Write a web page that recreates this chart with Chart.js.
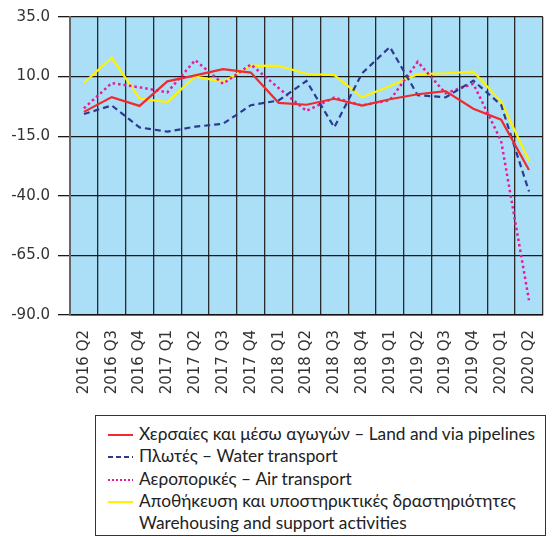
<!DOCTYPE html>
<html>
<head>
<meta charset="utf-8">
<script src="https://cdn.jsdelivr.net/npm/chart.js@4/dist/chart.umd.min.js"></script>
<style>
    html, body { margin: 0; padding: 0; background: #fff; overflow: hidden; }
    #wrap { position: relative; width: 558px; height: 537px; overflow: hidden; }
    #chart { position: absolute; left: 0; top: 0; }
    #legend {
        position: absolute; left: 95px; top: 415px; width: 451px; height: 121px;
        box-sizing: border-box; border: 1px solid #333;
        font-family: Lato, "Open Sans", sans-serif; font-size: 17.3px; color: #222;
        padding-top: 7px;
    }
    .row { height: 22.3px; line-height: 22px; white-space: nowrap; position: relative; padding-left: 43px; }
    .row svg { position: absolute; left: 12px; top: 10px; }
</style>
</head>
<body>
<div id="wrap">
    <canvas id="chart" width="562" height="400"></canvas>
    <div id="legend"></div>
</div>
<script>
// Quarters
const quarters = ['2016 Q2', '2016 Q3', '2016 Q4', '2017 Q1', '2017 Q2', '2017 Q3', '2017 Q4',
    '2018 Q1', '2018 Q2', '2018 Q3', '2018 Q4', '2019 Q1', '2019 Q2', '2019 Q3', '2019 Q4',
    '2020 Q1', '2020 Q2'];

// Series values (% change)
const landPipelines = [-4.8, 1.4, -2.3, 8.0, 10.5, 13.1, 11.7, -1.0, -1.8, 0.7, -2.2, 0.5, 2.6, 3.9, -3.5, -8.1, -29.2];
const waterTransport = [-5.7, -2.1, -11.3, -13.1, -11.0, -9.8, -2.0, 0.0, 8.2, -11.3, 11.4, 22.4, 2.2, 1.3, 8.3, -1.9, -38.2];
const airTransport = [-3.3, 7.3, 5.5, 3.4, 16.9, 7.0, 15.1, 5.2, -4.4, 1.2, -2.1, 0.1, 16.2, 3.0, 7.0, -17.0, -83.8];
const warehousing = [7.3, 17.9, 0.8, -0.7, 10.1, 7.8, 14.6, 14.5, 11.2, 10.6, 1.3, 6.1, 11.0, 11.4, 12.1, -0.5, -25.3];

// Y axis
const yMin = -90;
const yMax = 35;
const yStep = 25;

const seriesDefs = [
    { label: ['Χερσαίες και μέσω αγωγών – Land and via pipelines'], data: landPipelines, color: '#ee2b2f', dash: [], width: 2.2 },
    { label: ['Πλωτές – Water transport'], data: waterTransport, color: '#2d3a92', dash: [6, 4], width: 2.2 },
    { label: ['Αεροπορικές – Air transport'], data: airTransport, color: '#e8199b', dash: [2.5, 3], width: 2.5 },
    { label: ['Αποθήκευση και υποστηρικτικές δραστηριότητες', 'Warehousing and support activities'], data: warehousing, color: '#fff200', dash: [], width: 2.2 }
];

const plotBackground = {
    id: 'plotBackground',
    beforeDraw(chart) {
        const { ctx, chartArea } = chart;
        ctx.save();
        ctx.fillStyle = '#abdff8';
        ctx.fillRect(chartArea.left, chartArea.top, chartArea.right - chartArea.left, chartArea.bottom - chartArea.top);
        ctx.restore();
    }
};

const tickFont = { family: '"DejaVu Sans", Verdana, sans-serif', size: 15 };

new Chart(document.getElementById('chart').getContext('2d'), {
    type: 'line',
    data: {
        labels: quarters,
        datasets: seriesDefs.map(s => ({
            label: s.label.join(' '),
            data: s.data,
            borderColor: s.color,
            backgroundColor: s.color,
            borderDash: s.dash,
            borderWidth: s.width,
            pointRadius: 0,
            tension: 0,
            fill: false
        }))
    },
    options: {
        responsive: false,
        devicePixelRatio: 1,
        animation: false,
        layout: { padding: { top: 13, right: 1, left: 0, bottom: 0 } },
        plugins: {
            legend: { display: false },
            tooltip: { enabled: false }
        },
        scales: {
            x: {
                offset: true,
                grid: { offset: true, color: '#2a2a2a', lineWidth: 1.3, drawTicks: false },
                border: { color: '#111', width: 1.5 },
                ticks: {
                    font: tickFont, color: '#333', padding: 15,
                    minRotation: 90, maxRotation: 90, autoSkip: false
                },
                afterFit(scale) { scale.height = 85; }
            },
            y: {
                min: yMin,
                max: yMax,
                grid: { color: '#1a1a1a', lineWidth: 1.3, tickLength: 12, tickColor: '#1a1a1a' },
                border: { color: '#666', width: 2 },
                ticks: {
                    stepSize: yStep, font: tickFont, color: '#333', padding: 8,
                    callback: value => value.toFixed(1)
                },
                afterFit(scale) { scale.width = 70; }
            }
        }
    },
    plugins: [plotBackground]
});

// Legend box
const legend = document.getElementById('legend');
seriesDefs.forEach(s => {
    s.label.forEach((text, i) => {
        const row = document.createElement('div');
        row.className = 'row';
        if (i === 0) {
            row.innerHTML = `<svg width="26" height="4"><line x1="0" y1="2" x2="25" y2="2" stroke="${s.color}"
                stroke-width="2" stroke-dasharray="${s.dash.length ? (s.dash[0] === 6 ? '5 3' : '2 2') : 'none'}"/></svg>`;
        }
        row.appendChild(document.createTextNode(text));
        legend.appendChild(row);
    });
});
</script>
</body>
</html>
